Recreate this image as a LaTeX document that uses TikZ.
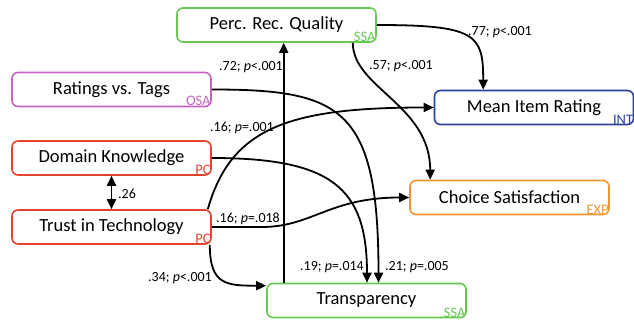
\documentclass[tikz,border=0pt]{standalone}
\usepackage{fontspec}
\setmainfont{Carlito}
\usetikzlibrary{arrows.meta,calc}
\definecolor{cgreen}{HTML}{66C84E}
\definecolor{cmag}{HTML}{C764C1}
\definecolor{cred}{HTML}{E4432F}
\definecolor{cblue}{HTML}{2E3F9E}
\definecolor{corange}{HTML}{F0952D}
\begin{document}
\begin{tikzpicture}[x=1pt,y=-1pt,
 box/.style={draw=#1, rounded corners=6pt, line width=1.6pt, minimum width=199pt, minimum height=34pt, inner sep=0pt, font=\fontsize{18.5}{18.5}\selectfont},
 tag/.style={text=#1, font=\fontsize{14.5}{14.5}\selectfont, inner sep=1pt, anchor=south east},
 arr/.style={line width=1.8pt, -{Triangle[length=10pt,width=9pt]}},
 dbl/.style={line width=1.8pt, {Triangle[length=10pt,width=9pt]}-{Triangle[length=10pt,width=9pt]}},
 lab/.style={font=\fontsize{14}{14}\selectfont, inner sep=0pt}]
\useasboundingbox (0,0) rectangle (634,320);
% boxes
\node[box=cgreen] (prq) at (276.5,25) {Perc. Rec. Quality};
\node[box=cmag] (rvt) at (111.5,89.5) {Ratings vs. Tags};
\node[box=cred] (dk) at (111.5,158) {Domain Knowledge};
\node[box=cred] (trust) at (111.5,227) {Trust in Technology};
\node[box=cblue] (mir) at (534,107.5) {Mean Item Rating};
\node[box=corange] (cs) at (509.5,197.5) {Choice Satisfaction};
\node[box=cgreen] (trans) at (366.5,300.5) {Transparency};
% tags
\node[tag=cgreen] (prqT) at (prq.south east) {SSA};
\node[tag=cmag] (rvtT) at (rvt.south east) {OSA};
\node[tag=cred] (dkT) at (dk.south east) {PC};
\node[tag=cred] (trustT) at (trust.south east) {PC};
\node[tag=cblue] (mirT) at (mir.south east) {INT};
\node[tag=corange] (csT) at (cs.south east) {EXP};
\node[tag=cgreen] (transT) at (trans.south east) {SSA};
% connectors
\draw[arr] ($(trans.north west)+(17.5,0)$) coordinate (a1) -- (a1 |- prq.south);
\draw[arr] (prq.east) .. controls +(100,0) and +(0,-55) .. ($(mir.north west)+(49.5,0)$);
\draw[arr] ($(prq.south east)+(-24,0)$) .. controls +(0,45) and +(0,-75) .. ($(cs.north west)+(21,0)$);
\draw[arr] ($(trust.north east)+(-4,0)$) .. controls +(23,-81) and +(-146,0) .. (mir.west);
\draw[arr] (trust.east) -- +(50,0) .. controls +(50,0) and +(-80,0) .. (cs.west);
\draw[arr] ($(trust.south east)+(-2,0)$) .. controls +(0,40) and +(-40,0) .. ($(trans.north west)+(0,3)$);
\draw[arr] (dk.east) .. controls +(120,0) and +(0,-95) .. ($(trans.north)+(0.5,0)$);
\draw[arr] (rvt.east) .. controls +(130,0) and +(0,-175) .. ($(trans.north)+(12,0)$);
\draw[dbl] (dk.south) -- (trust.north);
% labels
\node[lab] (l72) at (251,67) {.72; \textit{p}<.001};
\node[lab] (l77) at (500,32) {.77; \textit{p}<.001};
\node[lab] (l57) at (401,66) {.57; \textit{p}<.001};
\node[lab] (l16a) at (242,128) {.16; \textit{p}=.001};
\node[lab] (l16b) at (248,219) {.16; \textit{p}=.018};
\node[lab] (l34) at (180,278) {.34; \textit{p}<.001};
\node[lab] (l19) at (332,267) {.19; \textit{p}=.014};
\node[lab] (l21) at (417,267) {.21; \textit{p}=.005};
\node[lab] (l26) at (127,194) {.26};
\end{tikzpicture}
\end{document}
